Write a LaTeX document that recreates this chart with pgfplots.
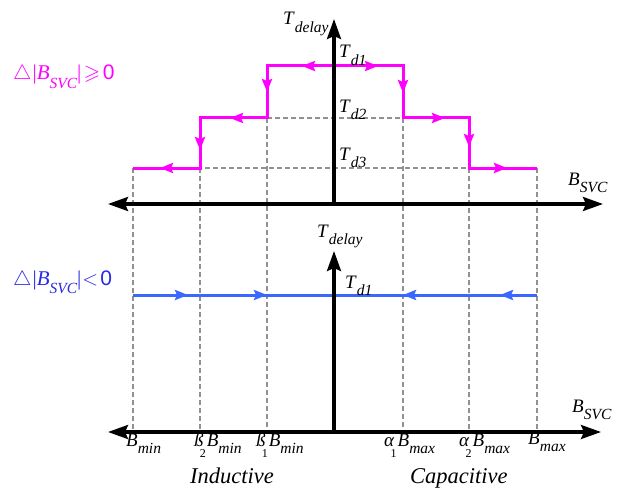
\documentclass[border=0pt]{standalone}
\usepackage{fontspec}
\usepackage{amssymb}
\usepackage{pgfplots}
\pgfplotsset{compat=1.18}
\usetikzlibrary{arrows.meta}
\setmainfont{Liberation Serif}
\newfontfamily\sansf{Liberation Sans}
\definecolor{mag}{RGB}{255,0,255}
\definecolor{bl}{RGB}{56,104,255}
\definecolor{bltext}{RGB}{40,40,230}
\definecolor{dgray}{RGB}{145,145,145}
\newcommand{\sub}[1]{\raisebox{-0.4em}{\fontsize{15.5bp}{15bp}\selectfont\itshape #1}}
\newcommand{\Lab}[2]{\textit{#1}\sub{#2}}
\newcommand{\pre}[2]{\textit{#1}\kern-0.2em\raisebox{-0.6em}{\fontsize{12bp}{12bp}\selectfont #2}\kern0.05em}
\begin{document}
\fontsize{19bp}{22bp}\selectfont
\begin{tikzpicture}
\begin{axis}[
  scale only axis, width=624bp, height=497bp,
  xmin=0,xmax=624,ymin=0,ymax=497, y dir=reverse,
  axis lines=none, clip=false,
  every axis plot/.append style={line cap=butt, line join=miter},
  dsh/.style={dgray, line width=1.1bp, dash pattern=on 5bp off 3bp},
  mg/.style={mag, line width=3bp},
  ma/.style={mag, line width=3bp, -{Stealth[length=13bp,width=10bp,inset=2bp]}},
  bb/.style={bl, line width=3bp},
  ba/.style={bl, line width=3bp, -{Stealth[length=13bp,width=10bp,inset=2bp]}},
  ax/.style={black, line width=3.2bp},
]
\path (axis cs:0,0) rectangle (axis cs:624,497);
% dashed guide lines
\addplot[dsh] coordinates {(133,168) (133,432)};
\addplot[dsh] coordinates {(200,168) (200,432)};
\addplot[dsh] coordinates {(267,118) (267,432)};
\addplot[dsh] coordinates {(403,118) (403,432)};
\addplot[dsh] coordinates {(469,168) (469,432)};
\addplot[dsh] coordinates {(537,168) (537,432)};
\addplot[dsh] coordinates {(267,118) (403,118)};
\addplot[dsh] coordinates {(133,168) (537,168)};
% magenta staircase
\addplot[mg] coordinates {(133,168) (200,168) (200,118) (267,118) (267,66) (403,66) (403,118) (469,118) (469,168) (537,168)};
\addplot[ma] coordinates {(200,168) (160,168)};
\addplot[ma] coordinates {(200,118) (200,150)};
\addplot[ma] coordinates {(267,118) (230,118)};
\addplot[ma] coordinates {(267,66) (267,92)};
\addplot[ma] coordinates {(334,66) (302,66)};
\addplot[ma] coordinates {(334,66) (378,66)};
\addplot[ma] coordinates {(403,66) (403,93)};
\addplot[ma] coordinates {(403,118) (445,118)};
\addplot[ma] coordinates {(469,118) (469,147)};
\addplot[ma] coordinates {(469,168) (507,168)};
% blue line
\addplot[bb] coordinates {(133,295) (537,295)};
\addplot[ba] coordinates {(133,295) (188,295)};
\addplot[ba] coordinates {(200,295) (267,295)};
\addplot[ba] coordinates {(469,295) (403,295)};
\addplot[ba] coordinates {(537,295) (500,295)};
% axes
\addplot[ax, {Stealth[length=20bp,width=14bp,inset=3bp]}-{Stealth[length=20bp,width=14bp,inset=3bp]}] coordinates {(108,204) (603,204)};
\addplot[ax, -{Stealth[length=20bp,width=14bp,inset=3bp]}] coordinates {(334,204) (334,19)};
\addplot[ax, {Stealth[length=20bp,width=14bp,inset=3bp]}-{Stealth[length=20bp,width=14bp,inset=3bp]}] coordinates {(108,432) (601,432)};
\addplot[ax, -{Stealth[length=20bp,width=14bp,inset=3bp]}] coordinates {(334,432) (334,251)};
% labels
\node[anchor=base west, inner sep=0pt] at (axis cs:283,25) {\Lab{T}{delay}};
\node[anchor=base west, inner sep=0pt] at (axis cs:339,58) {\Lab{T}{d1}};
\node[anchor=base west, inner sep=0pt] at (axis cs:339,112) {\Lab{T}{d2}};
\node[anchor=base west, inner sep=0pt] at (axis cs:339,160) {\Lab{T}{d3}};
\node[anchor=base west, inner sep=0pt] at (axis cs:568,185) {\Lab{B}{SVC}};
\node[anchor=base west, inner sep=0pt] at (axis cs:317,237) {\Lab{T}{delay}};
\node[anchor=base west, inner sep=0pt] at (axis cs:345,288) {\Lab{T}{d1}};
\node[anchor=base west, inner sep=0pt] at (axis cs:572,412) {\Lab{B}{SVC}};
\node[anchor=base west, inner sep=0pt] at (axis cs:126,446) {\Lab{B}{min}};
\node[anchor=base west, inner sep=0pt] at (axis cs:194,446) {\pre{ß}{2}\Lab{B}{min}};
\node[anchor=base west, inner sep=0pt] at (axis cs:256,446) {\pre{ß}{1}\Lab{B}{min}};
\node[anchor=base west, inner sep=0pt] at (axis cs:384,446) {\pre{α}{1}\Lab{B}{max}};
\node[anchor=base west, inner sep=0pt] at (axis cs:459,446) {\pre{α}{2}\Lab{B}{max}};
\node[anchor=base west, inner sep=0pt] at (axis cs:528,444) {\Lab{B}{max}};
\node[anchor=base west, inner sep=0pt] at (axis cs:190,483) {\fontsize{22.5bp}{24bp}\selectfont\textit{Inductive}};
\node[anchor=base west, inner sep=0pt] at (axis cs:410,483) {\fontsize{22.5bp}{24bp}\selectfont\textit{Capacitive}};
\node[anchor=base west, inner sep=0pt, text=mag] at (axis cs:13,80) {\fontsize{21bp}{24bp}\selectfont$\triangle$\kern0.05em|\Lab{B}{SVC}|\kern0.12em$\geqslant$\kern0.12em{\sansf 0}};
\node[anchor=base west, inner sep=0pt, text=bltext] at (axis cs:13,285) {\fontsize{21bp}{24bp}\selectfont$\triangle$\kern0.05em|\Lab{B}{SVC}|\kern0.05em$<$\kern0.1em{\sansf 0}};
\end{axis}
\end{tikzpicture}
\end{document}
